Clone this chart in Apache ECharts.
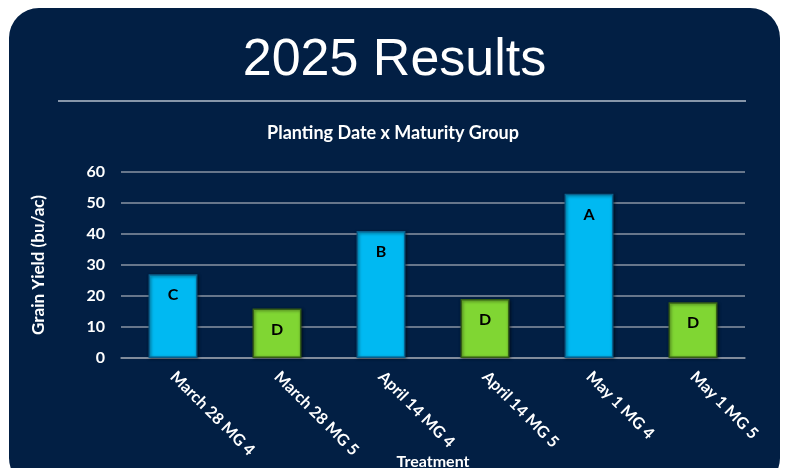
<!DOCTYPE html>
<html>
<head>
<meta charset="utf-8">
<script src="https://cdn.jsdelivr.net/npm/echarts@6/dist/echarts.min.js"></script>
<style>
    html, body { margin: 0; padding: 0; background: #ffffff; }
    #main { width: 789px; height: 468px; }
</style>
</head>
<body>
<div id="main"></div>
<script>
// 数据
let treatments = ['March 28 MG 4', 'March 28 MG 5', 'April 14 MG 4', 'April 14 MG 5', 'May 1 MG 4', 'May 1 MG 5'];
let grainYield = [27, 16, 41, 19, 53, 18];
let groupLetters = ['C', 'D', 'B', 'D', 'A', 'D'];
let maturityGroup = ['MG 4', 'MG 5', 'MG 4', 'MG 5', 'MG 4', 'MG 5'];
let yTicks = [0, 10, 20, 30, 40, 50, 60];

let barColors = {
    'MG 4': { fill: '#00b9f2', border: '#0a5f8c' },
    'MG 5': { fill: '#80d633', border: '#355e16' }
};

let myChart = echarts.init(document.getElementById('main'));

// 柱子数据，按熟期组上色
let barData = [];
for (let i = 0; i < grainYield.length; i++) {
    let c = barColors[maturityGroup[i]];
    barData.push({
        value: grainYield[i],
        letter: groupLetters[i],
        itemStyle: {
            color: c.fill,
            borderColor: c.border,
            borderWidth: 1.5
        }
    });
}

let option = {
    backgroundColor: '#ffffff',
    graphic: [
        {
            type: 'rect',
            z: -10,
            shape: { x: 9, y: 8, width: 771, height: 480, r: 30 },
            style: { fill: '#021f44' }
        },
        {
            type: 'line',
            z: -5,
            shape: { x1: 58, y1: 101, x2: 746, y2: 101 },
            style: { stroke: '#b4bfcc', lineWidth: 1.5 }
        }
    ],
    title: [
        {
            text: '2025 Results',
            left: 'center',
            top: 30,
            textStyle: {
                color: '#ffffff',
                fontFamily: 'Liberation Sans',
                fontWeight: 'normal',
                fontSize: 52
            }
        },
        {
            text: 'Planting Date x Maturity Group',
            left: 388,
            textAlign: 'center',
            top: 119,
            textStyle: {
                color: '#ffffff',
                fontFamily: 'Lato',
                fontWeight: 'bold',
                fontSize: 18
            }
        }
    ],
    grid: {
        left: 121,
        right: 44,
        top: 172,
        bottom: 110,
        outerBoundsMode: 'none'
    },
    xAxis: {
        type: 'category',
        data: treatments,
        name: 'Treatment',
        nameLocation: 'middle',
        nameGap: 96,
        nameMoveOverlap: false,
        nameTextStyle: {
            color: '#ffffff',
            fontFamily: 'Lato',
            fontWeight: 'bold',
            fontSize: 16
        },
        axisLine: { lineStyle: { color: '#8a94a3', width: 1.5 } },
        axisTick: { show: false },
        axisLabel: {
            rotate: -45,
            margin: 16,
            color: '#ffffff',
            fontFamily: 'Lato',
            fontWeight: 'bold',
            fontSize: 16
        }
    },
    yAxis: {
        type: 'value',
        min: yTicks[0],
        max: yTicks[yTicks.length - 1],
        interval: 10,
        name: 'Grain Yield (bu/ac)',
        nameLocation: 'middle',
        nameGap: 74,
        nameTextStyle: {
            color: '#ffffff',
            fontFamily: 'Lato',
            fontWeight: 'bold',
            fontSize: 17
        },
        axisLine: { show: false },
        axisTick: { show: false },
        axisLabel: {
            margin: 16,
            color: '#ffffff',
            fontFamily: 'Lato',
            fontWeight: 'bold',
            fontSize: 16
        },
        splitLine: { lineStyle: { color: '#8a94a3', width: 1.5 } }
    },
    series: [
        {
            type: 'bar',
            barWidth: '47%',
            data: barData,
            itemStyle: {
                shadowColor: 'rgba(0,0,0,0.5)',
                shadowBlur: 3,
                shadowOffsetX: 1,
                shadowOffsetY: 1
            },
            label: {
                show: true,
                position: 'insideTop',
                distance: 13,
                color: '#000000',
                fontFamily: 'Lato',
                fontWeight: 'bold',
                fontSize: 16,
                formatter: function (params) {
                    return params.data.letter;
                }
            }
        }
    ]
};
myChart.setOption(option);
</script>
</body>
</html>
